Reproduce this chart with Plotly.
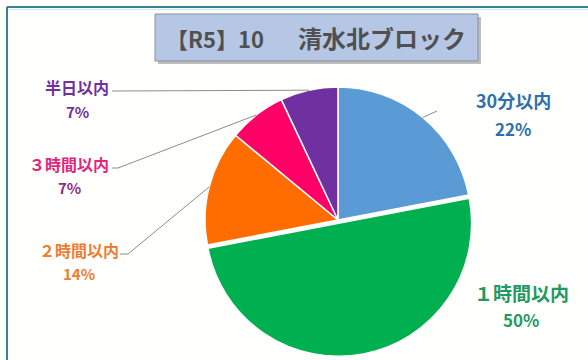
import math
import plotly.graph_objects as go

# Response-time shares for the block (percent), clockwise from 12 o'clock
categories = ["30分以内", "１時間以内", "２時間以内", "３時間以内", "半日以内"]
values = [22, 50, 14, 7, 7]
slice_colors = ["#5b9bd5", "#00b050", "#ff6d00", "#ff0066", "#7030a0"]
label_colors = ["#2e6fae", "#1f9a62", "#ee7d31", "#e2267c", "#7030a0"]
pct_colors = ["#2e6fae", "#1f9a62", "#ee7d31", "#8a2c8a", "#7030a0"]
title_year = "【R5】10"
title_block = "清水北ブロック"

W, H = 588, 360
CX, CY, R = 338, 220, 133
PULL = [0, 0.025, 0, 0, 0]


def px(x):
    return x / W


def py(y):
    return 1 - y / H


half = R * (1 + max(PULL))
fig = go.Figure(go.Pie(
    labels=categories,
    values=values,
    sort=False,
    direction="clockwise",
    rotation=0,
    pull=PULL,
    marker=dict(colors=slice_colors, line=dict(color="white", width=1.5)),
    textinfo="none",
    hoverinfo="label+percent",
    showlegend=False,
    domain=dict(x=[px(CX - half), px(CX + half)], y=[py(CY + half), py(CY - half)]),
))

total = sum(values)
mid_pts = []
acc = 0
for v in values:
    a = (acc + v / 2) / total * 2 * math.pi
    mid_pts.append((CX + R * math.sin(a), CY - R * math.cos(a)))
    acc += v

shapes = []
annotations = []

# outer frame (top and left edges)
shapes.append(dict(type="line", xref="paper", yref="paper", x0=px(7), y0=py(7), x1=px(588), y1=py(7),
                   line=dict(color="#3e7f94", width=2)))
shapes.append(dict(type="line", xref="paper", yref="paper", x0=px(7), y0=py(7), x1=px(7), y1=py(360),
                   line=dict(color="#3e7f94", width=2)))
shapes.append(dict(type="line", xref="paper", yref="paper", x0=px(9), y0=py(9.5), x1=px(588), y1=py(9.5),
                   line=dict(color="#c8eef5", width=1)))

# title box with drop shadow
shapes.append(dict(type="rect", xref="paper", yref="paper", x0=px(158), y0=py(17), x1=px(481), y1=py(64),
                   fillcolor="rgba(110,110,110,0.45)", line=dict(width=0)))
shapes.append(dict(type="rect", xref="paper", yref="paper", x0=px(155), y0=py(14), x1=px(478), y1=py(61),
                   fillcolor="#b6c7e6", line=dict(color="#8a8f99", width=1)))
annotations.append(dict(xref="paper", yref="paper", x=px(164), y=py(38), text=title_year,
                        showarrow=False, xanchor="left", yanchor="middle",
                        font=dict(family="Noto Sans CJK JP", size=22, color="#505050", weight=600)))
annotations.append(dict(xref="paper", yref="paper", x=px(296), y=py(38), text=title_block,
                        showarrow=False, xanchor="left", yanchor="middle",
                        font=dict(family="Noto Sans CJK JP", size=24, color="#505050", weight=600)))

# category labels: (name centre x, name y, pct y, name size, pct size)
label_pos = [
    (513, 100, 128, 18, 17),
    (521, 292, 319, 19, 17),
    (79, 250, 273, 16, 15),
    (69, 164, 187, 16, 15),
    (77, 87, 111, 16, 15),
]
for i, (lx, ly, pyy, s1, s2) in enumerate(label_pos):
    annotations.append(dict(xref="paper", yref="paper", x=px(lx), y=py(ly), text=categories[i],
                            showarrow=False, xanchor="center", yanchor="middle",
                            font=dict(family="Noto Sans CJK JP", size=s1, color=label_colors[i], weight=600)))
    pct = round(values[i] / total * 100)
    annotations.append(dict(xref="paper", yref="paper", x=px(lx), y=py(pyy), text=f"<b>{pct}%</b>",
                            showarrow=False, xanchor="center", yanchor="middle",
                            font=dict(family="Noto Sans CJK JP", size=s2, color=pct_colors[i])))

# leader lines from labels to slice edges
leader_starts = {
    0: [(437, 111)],
    2: [(120, 254), (128, 254)],
    3: [(112, 168), (118, 168)],
    4: [(112, 91)],
}
for i, pts in leader_starts.items():
    path = pts + [mid_pts[i]]
    d = "M " + " L ".join(f"{px(x)},{py(y)}" for x, y in path)
    shapes.append(dict(type="path", xref="paper", yref="paper", path=d,
                       line=dict(color="#8c8c8c", width=1)))

fig.update_layout(
    width=W, height=H,
    margin=dict(l=0, r=0, t=0, b=0),
    paper_bgcolor="#fffffd",
    plot_bgcolor="#fffffd",
    shapes=shapes,
    annotations=annotations,
)

fig.write_html("out.html")
